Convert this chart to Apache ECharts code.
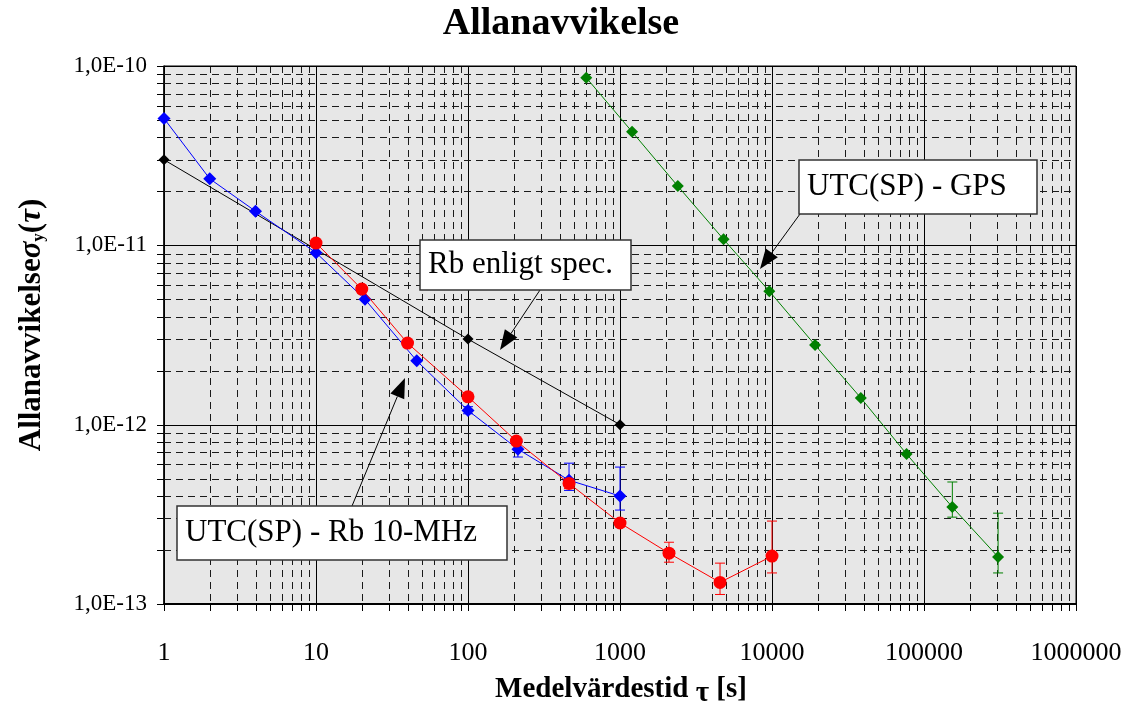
<!DOCTYPE html>
<html>
<head>
<meta charset="utf-8">
<script src="https://cdn.jsdelivr.net/npm/echarts@6/dist/echarts.min.js"></script>
<style>
  html, body { margin: 0; padding: 0; background: #fff; }
  #chart { width: 1140px; height: 712px; }
</style>
</head>
<body>
<div id="chart"></div>
<script>
// Averaging time tau [s] and Allan deviation for each measurement
const tauRbMeas = [1, 2, 4, 10, 21, 46, 100, 213, 462, 1000];
const adevRbMeas = [5.1e-11, 2.35e-11, 1.55e-11, 9.1e-12, 5.0e-12, 2.27e-12, 1.2e-12, 7.3e-13, 4.9e-13, 4.0e-13];
const errRbMeas = [[100, 1.15e-12, 1.26e-12], [213, 6.6e-13, 8.0e-13], [462, 4.3e-13, 6.1e-13], [1000, 3.34e-13, 5.8e-13]];

const tauRb10 = [10, 20, 40, 100, 208, 462, 1000, 2100, 4550, 10000];
const adevRb10 = [1.03e-11, 5.7e-12, 2.85e-12, 1.43e-12, 8.1e-13, 4.7e-13, 2.83e-13, 1.92e-13, 1.32e-13, 1.85e-13];
const errRb10 = [[462, 4.4e-13, 5.0e-13], [1000, 2.7e-13, 2.98e-13], [2100, 1.71e-13, 2.21e-13], [4550, 1.13e-13, 1.69e-13], [10000, 1.49e-13, 2.9e-13]];

const tauSpec = [1, 100, 1000];
const adevSpec = [3.0e-11, 3.0e-12, 1.0e-12];

const tauGps = [600, 1200, 2400, 4800, 9600, 19200, 38400, 76800, 153600, 307200];
const adevGps = [8.6e-11, 4.3e-11, 2.14e-11, 1.08e-11, 5.55e-12, 2.78e-12, 1.41e-12, 6.86e-13, 3.47e-13, 1.83e-13];
const errGps = [[153600, 3.05e-13, 4.79e-13], [307200, 1.49e-13, 3.21e-13]];

// Axis ranges and tick labels
const xDecades = [1, 10, 100, 1000, 10000, 100000, 1000000];
const xTickLabels = ['1', '10', '100', '1000', '10000', '100000', '1000000'];
const yDecades = [1e-13, 1e-12, 1e-11, 1e-10];
const yTickLabels = ['1,0E-13', '1,0E-12', '1,0E-11', '1,0E-10'];

const SERIF = '"Liberation Serif", "Times New Roman", serif';

function zip(a, b) { return a.map((v, i) => [v, b[i]]); }

// 1..9 multiples of every decade (ticks and dashed minor grid)
function withMinors(decades) {
  const out = [];
  decades.forEach((d, i) => {
    out.push({ v: d, major: true });
    if (i < decades.length - 1) {
      for (let k = 2; k <= 9; k++) out.push({ v: +(d * k).toPrecision(3), major: false });
    }
  });
  return out;
}

// grid items: [x, y, kind]  kind 0/1 = vertical major/minor, 2/3 = horizontal major/minor
const gridItems = [];
withMinors(xDecades).forEach(t => gridItems.push([t.v, yDecades[0], t.major ? 0 : 1]));
withMinors(yDecades).forEach(t => gridItems.push([xDecades[0], t.v, t.major ? 2 : 3]));

function crisp(v) { return Math.round(v) + 0.5; }

function renderGrid(params, api) {
  const cs = params.coordSys;
  const kind = api.value(2);
  const p = api.coord([api.value(0), api.value(1)]);
  const dash = (kind === 1 || kind === 3) ? [7, 5] : null;
  const gridStyle = { stroke: dash ? '#1a1a1a' : '#000', lineWidth: 1, lineDash: dash };
  const tickStyle = { stroke: '#000', lineWidth: 1 };
  const children = [];
  if (kind < 2) {
    const x = crisp(p[0]);
    const bottom = cs.y + cs.height;
    children.push({ type: 'line', shape: { x1: x, y1: cs.y, x2: x, y2: bottom }, style: gridStyle });
    children.push({ type: 'line', shape: { x1: x, y1: bottom, x2: x, y2: bottom + 7 }, style: tickStyle });
  } else {
    const y = crisp(p[1]);
    children.push({ type: 'line', shape: { x1: cs.x, y1: y, x2: cs.x + cs.width, y2: y }, style: gridStyle });
    children.push({ type: 'line', shape: { x1: cs.x - 7, y1: y, x2: kind === 2 ? cs.x + 4 : cs.x, y2: y }, style: tickStyle });
  }
  return { type: 'group', children: children };
}

function errorBars(color) {
  return function (params, api) {
    const x = api.value(0);
    const lo = api.coord([x, api.value(1)]);
    const hi = api.coord([x, api.value(2)]);
    const w = 5;
    const st = { stroke: color, lineWidth: 1 };
    return {
      type: 'group',
      children: [
        { type: 'line', shape: { x1: lo[0], y1: lo[1], x2: hi[0], y2: hi[1] }, style: st },
        { type: 'line', shape: { x1: lo[0] - w, y1: lo[1], x2: lo[0] + w, y2: lo[1] }, style: st },
        { type: 'line', shape: { x1: hi[0] - w, y1: hi[1], x2: hi[0] + w, y2: hi[1] }, style: st }
      ]
    };
  };
}

function errSeries(data, color) {
  return {
    type: 'custom',
    renderItem: errorBars(color),
    data: data,
    encode: { x: 0, y: [1, 2] },
    silent: true,
    z: 4
  };
}

function lineSeries(name, xs, ys, color, symbol, size, z) {
  return {
    name: name,
    type: 'line',
    data: zip(xs, ys),
    symbol: symbol,
    symbolSize: size,
    showAllSymbol: true,
    itemStyle: { color: color },
    lineStyle: { color: color, width: 1 },
    z: z
  };
}

// Callout boxes with arrows pointing at the curves
function callout(text, box, from, tip) {
  const [bx, by, bw, bh] = box;
  const dx = tip[0] - from[0], dy = tip[1] - from[1];
  const len = Math.hypot(dx, dy);
  const ux = dx / len, uy = dy / len;
  const L = 20, W = 15;
  const baseX = tip[0] - ux * L, baseY = tip[1] - uy * L;
  const nx = -uy, ny = ux;
  return [
    {
      type: 'line', z: 50,
      shape: { x1: from[0], y1: from[1], x2: baseX, y2: baseY },
      style: { stroke: '#000', lineWidth: 1 }
    },
    {
      type: 'polygon', z: 50,
      shape: { points: [[tip[0], tip[1]], [baseX + nx * W / 2, baseY + ny * W / 2], [baseX - nx * W / 2, baseY - ny * W / 2]] },
      style: { fill: '#000' }
    },
    {
      type: 'rect', z: 51,
      shape: { x: bx, y: by, width: bw, height: bh },
      style: { fill: '#fff', stroke: '#333', lineWidth: 1.5 }
    },
    {
      type: 'text', z: 52,
      x: bx + 8, y: by + bh / 2,
      style: { text: text, fontFamily: SERIF, fontSize: 31, fill: '#000', align: 'left', verticalAlign: 'middle' }
    }
  ];
}

function labelFor(list, labels, v) {
  const i = list.findIndex(d => Math.abs(Math.log10(d) - Math.log10(v)) < 1e-6);
  return i >= 0 ? labels[i] : '';
}

const chart = echarts.init(document.getElementById('chart'), null, { renderer: 'canvas' });

const option = {
  animation: false,
  backgroundColor: '#fff',
  grid: {
    left: 164, right: 64, top: 66, bottom: 108,
    show: true,
    backgroundColor: '#e7e7e7',
    borderColor: '#000',
    borderWidth: 1
  },
  xAxis: {
    type: 'log',
    logBase: 10,
    min: 1,
    max: 1000000,
    interval: 1,
    axisLine: { lineStyle: { color: '#000', width: 2 } },
    axisTick: { show: false },
    axisLabel: {
      customValues: xDecades,
      formatter: v => labelFor(xDecades, xTickLabels, v),
      fontFamily: SERIF, fontSize: 26, color: '#000', margin: 36
    },
    splitLine: { show: false }
  },
  yAxis: {
    type: 'log',
    logBase: 10,
    min: 1e-13,
    max: 1e-10,
    interval: 1,
    axisLine: { lineStyle: { color: '#000', width: 1.5 } },
    axisTick: { show: false },
    axisLabel: {
      customValues: yDecades,
      formatter: v => labelFor(yDecades, yTickLabels, v),
      fontFamily: SERIF, fontSize: 23, color: '#000', margin: 17
    },
    splitLine: { show: false }
  },
  graphic: [
    {
      type: 'text',
      x: 561, y: 24,
      style: {
        text: 'Allanavvikelse',
        fontFamily: SERIF, fontSize: 38, fontWeight: 'bold', fill: '#000',
        align: 'center', verticalAlign: 'middle'
      }
    },
    {
      type: 'text',
      x: 32, y: 325,
      rotation: Math.PI / 2,
      style: {
        text: '{b|Allanavvikelse}{s|σ}{sub|y}{b|(}{s|τ}{b|)}',
        align: 'center', verticalAlign: 'middle',
        rich: {
          b: { fontFamily: SERIF, fontSize: 31, fontWeight: 'bold', fill: '#000' },
          s: { fontFamily: SERIF, fontSize: 31, fontWeight: 'bold', fontStyle: 'italic', fill: '#000' },
          sub: { fontFamily: SERIF, fontSize: 17, fontWeight: 'bold', fill: '#000', verticalAlign: 'bottom', padding: [12, 0, 0, 0] }
        }
      }
    },
    {
      type: 'text',
      x: 621, y: 690,
      style: {
        text: '{b|Medelvärdestid }{t|τ}{b| [s]}',
        align: 'center', verticalAlign: 'middle',
        rich: {
          b: { fontFamily: SERIF, fontSize: 29, fontWeight: 'bold', fill: '#000' },
          t: { fontFamily: SERIF, fontSize: 29, fontWeight: 'bold', fill: '#000', padding: [8, 0, 0, 0] }
        }
      }
    },
    ...callout('Rb enligt spec.', [420, 240, 211, 50], [540, 290], [500, 350]),
    ...callout('UTC(SP) - Rb 10-MHz', [177, 506, 330, 54], [352, 506], [405, 378]),
    ...callout('UTC(SP) - GPS', [799, 160, 238, 54], [800, 214], [760, 269])
  ],
  series: [
    {
      // decade grid (solid), 2..9 grid (dashed) and axis ticks
      type: 'custom',
      renderItem: renderGrid,
      data: gridItems,
      encode: { x: 0, y: 1 },
      silent: true,
      clip: false,
      z: 1
    },
    lineSeries('Rb enligt spec.', tauSpec, adevSpec, '#000000', 'diamond', 11, 3),
    lineSeries('UTC(SP) - Rb 10-MHz (mätning 1)', tauRbMeas, adevRbMeas, '#0000ff', 'diamond', 13, 5),
    errSeries(errRbMeas, '#0000ff'),
    lineSeries('UTC(SP) - Rb 10-MHz', tauRb10, adevRb10, '#ff0000', 'circle', 13, 6),
    errSeries(errRb10, '#ff0000'),
    lineSeries('UTC(SP) - GPS', tauGps, adevGps, '#008000', 'diamond', 12, 5),
    errSeries(errGps, '#008000')
  ]
};

chart.setOption(option);
</script>
</body>
</html>
